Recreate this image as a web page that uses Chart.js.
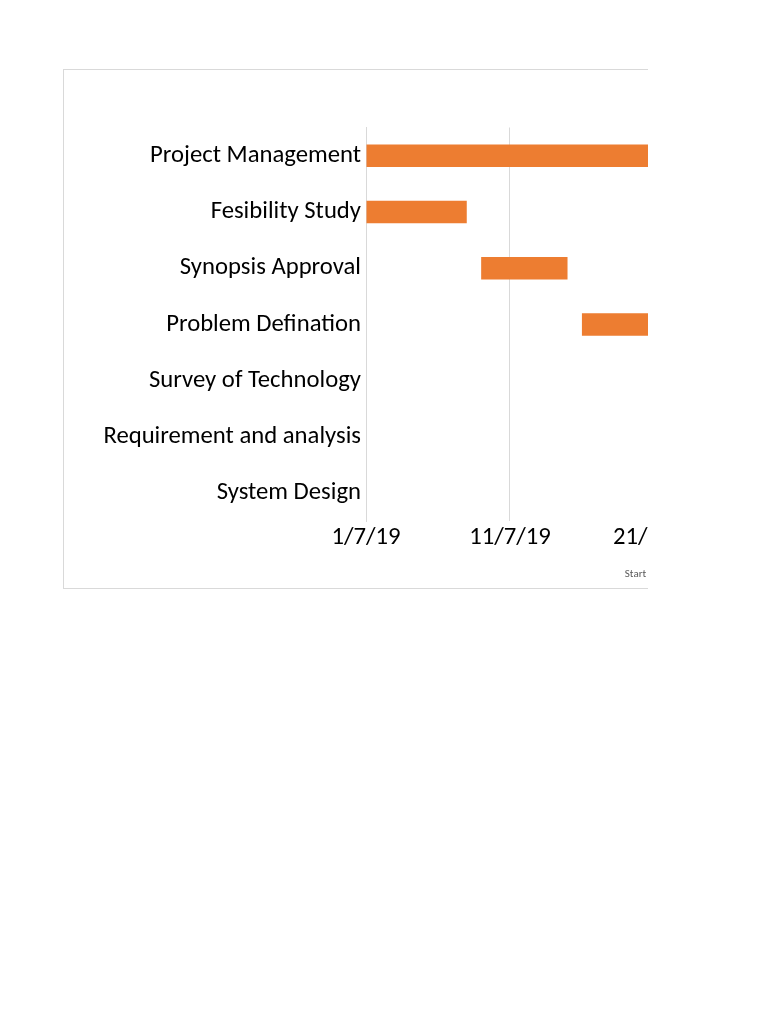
<!DOCTYPE html>
<html>
<head>
<meta charset="utf-8">
<script src="https://cdn.jsdelivr.net/npm/chart.js@4.4.1/dist/chart.umd.min.js"></script>
<style>
  html, body { margin: 0; padding: 0; background: #fff; }
  /* рамка диаграммы, справа обрезана как на исходной картинке */
  #frame {
    position: absolute; left: 63px; top: 69px;
    width: 584px; height: 518px;
    border: 1px solid #d9d9d9; border-right: none;
    overflow: hidden;
  }
  #gantt { position: absolute; left: 0; top: 0; }
</style>
</head>
<body>
<div id="frame"><canvas id="gantt" width="1208" height="520"></canvas></div>
<script>
/* ── данные: дни считаются от 1/7/19 ───────────────────────── */
const tasks = [
  'Project Management',
  'Fesibility Study',
  'Synopsis Approval',
  'Problem Defination',
  'Survey of Technology',
  'Requirement and analysis',
  'System Design'
];
const startDays    = [0, 0, 8, 15, 22, 30, 40];
const durationDays = [60, 7, 6, 7, 8, 10, 14];
const tickLabels   = ['1/7/19', '11/7/19', '21/7/19', '31/7/19', '10/8/19', '20/8/19', '30/8/19'];
const tickStep = 10;

const FONT = 'Carlito, Calibri, sans-serif';

new Chart(document.getElementById('gantt'), {
  type: 'bar',
  data: {
    labels: tasks,
    datasets: [
      { label: 'Start', data: startDays,
        backgroundColor: 'rgba(0,0,0,0)', borderWidth: 0 },
      { label: 'Duration', data: durationDays,
        backgroundColor: '#ED7D31', borderWidth: 0 }
    ]
  },
  options: {
    indexAxis: 'y',
    responsive: false,
    animation: false,
    devicePixelRatio: 1,
    categoryPercentage: 1,
    barPercentage: 0.4,
    layout: { padding: { top: 57.5, right: 11, bottom: 0, left: 0 } },
    plugins: {
      tooltip: { enabled: false },
      legend: {
        position: 'bottom',
        labels: {
          boxWidth: 7, boxHeight: 7, padding: 15,
          color: '#595959',
          font: { family: FONT, size: 11 }
        }
      }
    },
    scales: {
      x: {
        stacked: true,
        min: 0, max: 60,
        grid: { color: '#d9d9d9', drawTicks: false },
        border: { display: false },
        ticks: {
          stepSize: tickStep,
          padding: 1.5,
          maxRotation: 0,
          color: '#000',
          font: { family: FONT, size: 24.7 },
          callback: v => tickLabels[v / tickStep]
        }
      },
      y: {
        stacked: true,
        grid: { display: false, drawTicks: false },
        border: { color: '#d9d9d9' },
        ticks: {
          padding: 5,
          color: '#000',
          font: { family: FONT, size: 24.7 }
        },
        afterFit: s => { s.width = 302; }
      }
    }
  }
});
</script>
</body>
</html>
